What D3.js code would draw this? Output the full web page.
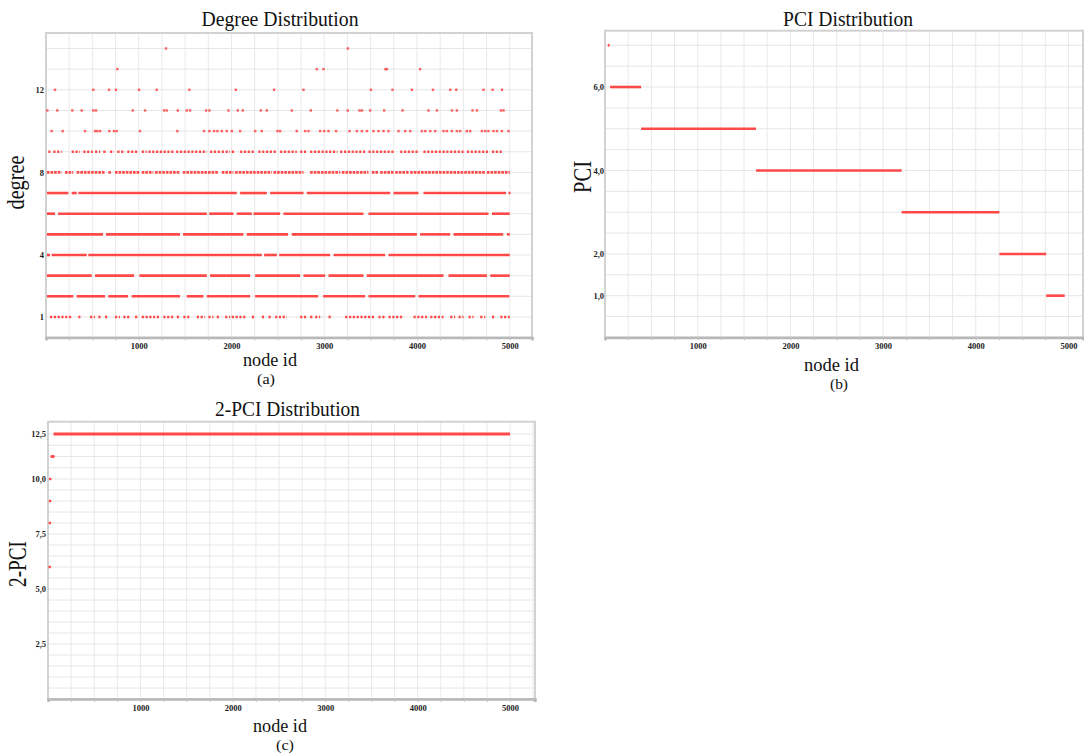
<!DOCTYPE html>
<html>
<head>
<meta charset="utf-8">
<script src="https://cdn.jsdelivr.net/npm/d3@7"></script>
<style>
  body { margin: 0; background: #fff; }
  svg text { font-family: "Liberation Serif", "Times New Roman", serif; fill: #111; }
  .tick text { font-weight: bold; font-size: 8.5px; fill: #222; }
</style>
</head>
<body>
<div id="chart"></div>
<script>
// ---- Degree distribution: dense rows stored as [from, to] node-id runs ----
const degreeRunLevels = [1, 2, 3, 4, 5, 6, 7, 8, 9];
const degreeRuns = [
  [[43,277],[349,367],[475,529],[564,600],[636,672],[744,798],[834,906],[960,996],[1032,1176],[1194,1230],[1265,1373],[1410,1445],[1481,1553],[1626,1715],[1751,1805],[1841,1877],[1931,1985],[2003,2165],[2219,2255],[2327,2363],[2399,2435],[2470,2597],[2740,2812],[2848,2884],[2902,2956],[3046,3082],[3226,3549],[3585,3657],[3693,3855],[3963,4107],[4143,4286],[4358,4412],[4448,4502],[4556,4610],[4682,4736],[4808,4844],[4898,5000]],
  [[10,294],[331,636],[672,885],[924,1445],[1518,1697],[1734,2201],[2255,2934],[2988,3441],[3477,3981],[4016,4995]],
  [[10,493],[529,950],[1008,1734],[1769,2201],[2255,2740],[2776,3010],[3046,3423],[3459,4286],[4340,4754],[4790,5000]],
  [[10,43],[61,439],[456,2327],[2352,2489],[2514,3064],[3100,3657],[3693,5000]],
  [[10,615],[647,1445],[1478,2128],[2165,2610],[2650,3999],[4034,4358],[4394,4930],[4970,5000]],
  [[10,97],[130,1734],[1760,2021],[2057,2219],[2237,2524],[2560,3423],[3477,4771],[4808,5000]],
  [[10,241],[277,331],[349,2057],[2093,2381],[2417,2776],[2812,3711],[3747,4016],[4070,4960],[4987,5000]],
  [[10,169],[205,294],[331,636],[672,709],[744,1014],[1032,1157],[1176,1445],[1475,1859],[1895,2021],[2039,2435],[2453,2776],[2848,3172],[3190,3477],[3513,3585],[3603,3747],[3765,3909],[3927,4736],[4754,5000]],
  [[25,43],[79,169],[277,367],[403,504],[529,583],[618,654],[690,734],[769,833],[877,996],[1032,1086],[1104,1374],[1403,1734],[1769,1877],[1895,1985],[2003,2039],[2093,2255],[2290,2489],[2524,2704],[2740,2812],[2848,3142],[3172,3441],[3477,3747],[3819,4016],[4070,4502],[4538,4771],[4808,4916]]
];
// sparse rows: single node ids
const degreeDotLevels = [10, 11, 12, 13, 14];
const degreeDots = [
  [61,180,421,529,553,583,683,734,762,1014,1416,1704,1762,1812,1848,1895,1949,2003,2093,2255,2327,2496,2524,2704,2794,2830,2956,2999,3046,3128,3272,3352,3406,3460,3531,3585,3639,3693,3801,3873,3927,4053,4089,4143,4196,4286,4322,4376,4430,4466,4538,4574,4700,4736,4771,4825,4862,4916,4987],
  [14,122,284,385,510,539,935,1068,1273,1302,1421,1518,1553,1726,1762,1967,2068,2122,2316,2381,2650,2855,3142,3254,3380,3406,3495,3646,3844,4124,4215,4377,4430,4599,4646,4905,4933],
  [97,510,680,755,1003,1194,1546,2046,2460,2776,3503,3736,3945,4172,4358,4423,4717,4815,4916],
  [769,2920,2992,3660,3675,4034],
  [1294,3254]
];
const degreeTicks = [1, 4, 8, 12];

// ---- PCI distribution ----
const pciValues = [7, 6, 5, 4, 3, 2, 1];
const pciFrom   = [30, 55, 390, 1630, 3200, 4255, 4760];
const pciTo     = [50, 390, 1630, 3200, 4255, 4760, 4960];
const pciTicks  = [1, 2, 4, 6];

// ---- 2-PCI distribution ----
const twoPciNodes  = [18, 20, 22, 24, 40, 50, 60];
const twoPciValues = [6, 8, 9, 10, 11.25, 11.25, 11.25];
const twoPciLine   = { from: 60, to: 5000, value: 12.5 };
const twoPciTicks  = [2.5, 5, 7.5, 10, 12.5];

const xTicks = [1000, 2000, 3000, 4000, 5000];
const RED = "#ff4848";

const svg = d3.select("#chart").append("svg")
  .attr("width", 1084)
  .attr("height", 756);

function comma(d) { return d.toFixed(1).replace(".", ","); }

// draws grid, frame and axes of one panel, returns its scales
function panel(cfg) {
  const x = d3.scaleLinear().domain([0, cfg.xMax]).range([cfg.left, cfg.right]);
  const y = d3.scaleLinear().domain(cfg.yDomain).range(cfg.yRange);
  const top = cfg.yRange[cfg.yRange.length - 1];
  const bottom = cfg.yRange[0];
  const g = svg.append("g");

  g.append("g").selectAll("line")
    .data(d3.range(250, cfg.xMax, 250))
    .enter().append("line")
    .attr("x1", d => x(d)).attr("x2", d => x(d))
    .attr("y1", top).attr("y2", bottom)
    .attr("stroke", "#e9e9e9").attr("stroke-width", 1);

  g.append("g").selectAll("line")
    .data(cfg.yGrid)
    .enter().append("line")
    .attr("x1", cfg.left).attr("x2", cfg.right)
    .attr("y1", d => y(d)).attr("y2", d => y(d))
    .attr("stroke", "#e6e6e6").attr("stroke-width", 1);

  g.append("rect")
    .attr("x", cfg.left).attr("y", top)
    .attr("width", cfg.right - cfg.left).attr("height", bottom - top)
    .attr("fill", "none").attr("stroke", "#d2d2d2").attr("stroke-width", 2);

  // minor ticks along the bottom
  const minor = g.append("g").attr("transform", `translate(0, ${bottom})`)
    .call(d3.axisBottom(x).tickValues(d3.range(250, cfg.xMax, 250)).tickFormat("").tickSize(3));
  minor.select(".domain").attr("stroke", "#b8b8b8").attr("stroke-width", 2.5);
  minor.selectAll(".tick line").attr("stroke", "#c4c4c4");

  const xa = g.append("g").attr("transform", `translate(0, ${bottom})`)
    .call(d3.axisBottom(x).tickValues(xTicks).tickFormat(d3.format("d")).tickSize(0).tickPadding(cfg.xPad));
  xa.select(".domain").remove();

  const ya = g.append("g").attr("transform", `translate(${cfg.left}, 0)`)
    .call(d3.axisLeft(y).tickValues(cfg.yTicks).tickFormat(cfg.fmt).tickSize(0).tickPadding(cfg.yPad));
  ya.select(".domain").remove();

  return { g, x, y };
}

function label(txt, x, y, size, len, rotate) {
  const t = svg.append("text")
    .attr("text-anchor", "middle")
    .attr("font-size", size + "px")
    .attr("textLength", len)
    .attr("lengthAdjust", "spacingAndGlyphs")
    .text(txt);
  if (rotate) t.attr("transform", `translate(${x}, ${y}) rotate(-90)`);
  else t.attr("x", x).attr("y", y);
}

// ---------- (a) Degree Distribution ----------
const A = panel({
  left: 46, right: 532, xMax: 5240,
  yDomain: [0, 14.75], yRange: [337.6, 33],
  yGrid: d3.range(1, 15), yTicks: degreeTicks, fmt: d3.format("d"),
  xPad: 5, yPad: 2
});

const runRows = A.g.append("g");
degreeRunLevels.forEach((lvl, i) => {
  const dotted = lvl === 1 || lvl === 9 ? "2.2 1.6" : (lvl === 8 ? "2.6 1" : null);
  runRows.selectAll(null)
    .data(degreeRuns[i])
    .enter().append("line")
    .attr("x1", d => A.x(d[0]))
    .attr("x2", d => Math.max(A.x(d[1]), A.x(d[0]) + 2))
    .attr("y1", A.y(lvl)).attr("y2", A.y(lvl))
    .attr("stroke", RED).attr("stroke-width", 2.6)
    .attr("stroke-dasharray", dotted);
});

degreeDotLevels.forEach((lvl, i) => {
  A.g.selectAll(null)
    .data(degreeDots[i])
    .enter().append("rect")
    .attr("x", d => A.x(d) - 1.2)
    .attr("y", A.y(lvl) - 1.2)
    .attr("width", 2.4).attr("height", 2.4)
    .attr("fill", RED).attr("opacity", 0.85);
});

label("Degree Distribution", 280, 26, 21, 157);
label("degree", 24, 182.5, 25, 54, true);
label("node id", 270, 366, 18, 54);
label("(a)", 266, 384, 15, 18);

// ---------- (b) PCI Distribution ----------
const B = panel({
  left: 605, right: 1083, xMax: 5157,
  yDomain: [0, 7.35], yRange: [337.4, 30.7],
  yGrid: d3.range(0.5, 7.35, 0.5), yTicks: pciTicks, fmt: comma,
  xPad: 6, yPad: 1
});

B.g.selectAll(null)
  .data(pciValues)
  .enter().append("line")
  .attr("x1", (d, i) => B.x(pciFrom[i]))
  .attr("x2", (d, i) => B.x(pciTo[i]))
  .attr("y1", d => B.y(d)).attr("y2", d => B.y(d))
  .attr("stroke", RED).attr("stroke-width", 2.6);

label("PCI Distribution", 848, 26, 21, 130);
label("PCI", 591, 177, 25, 32, true);
label("node id", 831.5, 371, 18, 55);
label("(b)", 839, 389, 15, 18);

// ---------- (c) 2-PCI Distribution ----------
const C = panel({
  left: 48, right: 535, xMax: 5270,
  yDomain: [0, 10, 12.5, 13.18], yRange: [699, 479, 434, 421.7],
  yGrid: d3.range(0.5, 10, 0.5).concat(d3.range(10, 13.1, 0.625)),
  yTicks: twoPciTicks, fmt: comma,
  xPad: 6, yPad: 2
});

C.g.append("line")
  .attr("x1", C.x(twoPciLine.from)).attr("x2", C.x(twoPciLine.to))
  .attr("y1", C.y(twoPciLine.value)).attr("y2", C.y(twoPciLine.value))
  .attr("stroke", RED).attr("stroke-width", 2.8);

C.g.selectAll(null)
  .data(twoPciNodes)
  .enter().append("rect")
  .attr("x", d => C.x(d) - 1.2)
  .attr("y", (d, i) => C.y(twoPciValues[i]) - 1.2)
  .attr("width", 2.4).attr("height", 2.4)
  .attr("fill", RED);

label("2-PCI Distribution", 287.5, 416, 21, 145);
label("2-PCI", 25.8, 564, 25, 46, true);
label("node id", 280, 732, 18, 54);
label("(c)", 285, 750, 15, 18);
</script>
</body>
</html>
